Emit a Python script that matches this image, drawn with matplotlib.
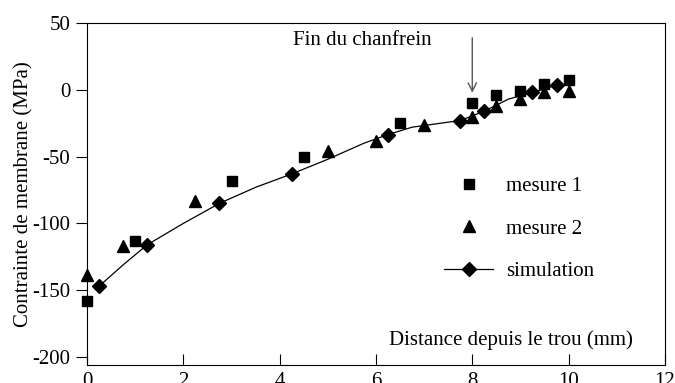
import numpy as np
import matplotlib
matplotlib.use("Agg")
import matplotlib.pyplot as plt

# mesure 1 (squares)
x_m1 = [0, 1.0, 3.0, 4.5, 6.5, 8.0, 8.5, 9.0, 9.5, 10.0]
y_m1 = [-158, -113, -68, -50, -25, -10, -4, -1, 4, 7]

# mesure 2 (triangles)
x_m2 = [0, 0.75, 2.25, 5.0, 6.0, 7.0, 8.0, 8.5, 9.0, 9.5, 10.0]
y_m2 = [-139, -117, -83, -46, -38, -26, -20, -12, -7, -2, -1]

# simulation curve, markers only on some of the points
x_sim = [0.25, 0.75, 1.25, 2.0, 2.75, 3.5, 4.25, 5.0, 5.75, 6.25, 6.75, 7.25, 7.75, 8.25, 8.75, 9.25, 9.75]
y_sim = [-147, -131, -116, -100, -85, -73, -63, -52, -40, -33.5, -28, -25.5, -23, -16, -7, -2, 3.5]
sim_marks = [0, 2, 4, 6, 9, 12, 13, 15, 16]

plt.rcParams['font.family'] = ['Liberation Serif', 'DejaVu Serif']
plt.rcParams['font.size'] = 15
plt.rcParams['axes.unicode_minus'] = False

fig = plt.figure(figsize=(6.75, 3.83), dpi=100)
ax = fig.add_axes([0.129, 0.047, 0.856, 0.893])

ax.plot(x_sim, y_sim, '-', color='black', lw=0.9, marker='D', ms=7.5,
        markevery=sim_marks, label='simulation', zorder=3)
ax.plot(x_m1, y_m1, 's', color='black', ms=7, ls='none', label='mesure 1',
        clip_on=False, zorder=4)
ax.plot(x_m2, y_m2, '^', color='black', ms=8, ls='none', label='mesure 2',
        clip_on=False, zorder=4)

ax.set_xlim(0, 12)
ax.set_ylim(-206, 50)
ax.set_xticks([0, 2, 4, 6, 8, 10, 12])
ax.set_yticks([-200, -150, -100, -50, 0, 50])
ax.tick_params(axis='x', direction='in', length=8, pad=5, top=False)
ax.tick_params(axis='y', direction='out', length=8, pad=4, right=False)
ax.tick_params(labelsize=15)

ax.set_ylabel('Contrainte de membrane (MPa)', fontsize=15, labelpad=-1)
ax.text(0.945, 0.073, 'Distance depuis le trou (mm)', transform=ax.transAxes,
        ha='right', va='center', fontsize=15)

# arrow for end of chamfer
ax.annotate('', xy=(8, -2.2), xytext=(8, 39),
            arrowprops=dict(arrowstyle='->', color='#555555', lw=1,
                            shrinkA=0, shrinkB=0))
ax.text(4.27, 37, 'Fin du chanfrein', ha='left', va='center', fontsize=15)

handles, labels = ax.get_legend_handles_labels()
order = [1, 2, 0]
ax.legend([handles[i] for i in order], [labels[i] for i in order],
          loc='upper left', bbox_to_anchor=(0.618, 0.551), frameon=False,
          numpoints=1, handlelength=2.35, handletextpad=0.62, labelspacing=1.1,
          borderpad=0, borderaxespad=0, fontsize=15)

fig.savefig('out.png', dpi=100)
